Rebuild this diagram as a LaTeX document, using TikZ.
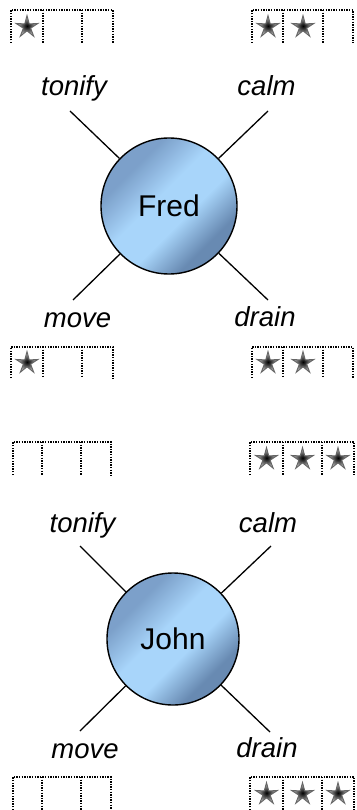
\documentclass[tikz,border=0pt]{standalone}
\usepackage{fontspec}
\setmainfont{Liberation Sans}
\usetikzlibrary{shapes.geometric}
\definecolor{ballDark}{RGB}{124,160,202}
\definecolor{ballLight}{RGB}{168,213,250}
\definecolor{ballDeep}{RGB}{104,138,178}
% diagonal blue fill: darker rims, broad light centre
\pgfdeclarehorizontalshading{ballshade}{100bp}{color(0bp)=(ballDark); color(31bp)=(ballDark);
  color(45bp)=(ballLight); color(57bp)=(ballLight); color(70bp)=(ballDeep); color(100bp)=(ballDeep)}
\tikzset{
  x=1pt, y=-1pt,
  person/.style={circle, draw=black, line width=1.4pt, minimum size=136pt, inner sep=0pt,
    shading=ballshade, shading angle=-45,
    font=\fontsize{30}{36}\selectfont},
  spoke/.style={line width=1.3pt},
  verb/.style={font=\fontsize{27.5}{33}\selectfont\itshape, inner sep=0pt, anchor=base},
  ratebox/.style={line width=1.6pt, dash pattern=on 1.4pt off 1.2pt},
  ratestar/.style={star, star points=5, star point ratio=3, minimum size=23pt, inner sep=0pt,
    draw=black!60, line width=0.9pt, inner color=black, outer color=black!20},
}
\begin{document}
\begin{tikzpicture}
\useasboundingbox (0,0) rectangle (356,810);

% ---- Fred ----
\draw[ratebox] (11,43) -- (11,10) -- (113,10) -- (113,43);
\draw[ratebox] (43,10) -- (43,43) (82,10) -- (82,43);
\node[ratestar] (fredTopL1) at (27,27) {};
\draw[ratebox] (252,43) -- (252,10) -- (353,10) -- (353,43);
\draw[ratebox] (283,10) -- (283,43) (323,10) -- (323,43);
\node[ratestar] (fredTopR1) at (268,27) {};
\node[ratestar] (fredTopR2) at (303,27) {};

\node[person] (fred) at (169,206) {Fred};
\coordinate (fredTonifyEnd) at (70,111);
\coordinate (fredCalmEnd) at (268,111);
\coordinate (fredMoveEnd) at (73,300);
\coordinate (fredDrainEnd) at (268,300);
\draw[spoke] (fred) -- (fredTonifyEnd);
\draw[spoke] (fred) -- (fredCalmEnd);
\draw[spoke] (fred) -- (fredMoveEnd);
\draw[spoke] (fred) -- (fredDrainEnd);
\node[verb] (fredTonify) at (74,96) {tonify};
\node[verb] (fredCalm) at (266.5,96) {calm};
\node[verb] (fredMove) at (77.5,327) {move};
\node[verb] (fredDrain) at (265,326) {drain};

\draw[ratebox] (11,378) -- (11,347) -- (113,347) -- (113,378);
\draw[ratebox] (43,347) -- (43,378) (82,347) -- (82,378);
\node[ratestar] (fredBotL1) at (27,363) {};
\draw[ratebox] (252,378) -- (252,347) -- (353,347) -- (353,378);
\draw[ratebox] (283,347) -- (283,378) (323,347) -- (323,378);
\node[ratestar] (fredBotR1) at (268,363) {};
\node[ratestar] (fredBotR2) at (303,363) {};

% ---- John ----
\draw[ratebox] (13,475) -- (13,442) -- (111,442) -- (111,475);
\draw[ratebox] (42,442) -- (42,475) (81,442) -- (81,475);
\draw[ratebox] (250,475) -- (250,442) -- (354,442) -- (354,475);
\draw[ratebox] (283,442) -- (283,475) (322,442) -- (322,475);
\node[ratestar] (johnTopR1) at (266.5,459) {};
\node[ratestar] (johnTopR2) at (302.5,459) {};
\node[ratestar] (johnTopR3) at (338,459) {};

\node[person, minimum size=132pt] (john) at (173,639) {John};
\coordinate (johnTonifyEnd) at (80,546);
\coordinate (johnCalmEnd) at (271,546);
\coordinate (johnMoveEnd) at (80,731);
\coordinate (johnDrainEnd) at (270,732);
\draw[spoke] (john) -- (johnTonifyEnd);
\draw[spoke] (john) -- (johnCalmEnd);
\draw[spoke] (john) -- (johnMoveEnd);
\draw[spoke] (john) -- (johnDrainEnd);
\node[verb] (johnTonify) at (82.5,532) {tonify};
\node[verb] (johnCalm) at (268,532) {calm};
\node[verb] (johnMove) at (85,758) {move};
\node[verb] (johnDrain) at (267,757) {drain};

\draw[ratebox] (13,810) -- (13,777) -- (111,777) -- (111,810);
\draw[ratebox] (42,777) -- (42,810) (81,777) -- (81,810);
\draw[ratebox] (250,810) -- (250,777) -- (354,777) -- (354,810);
\draw[ratebox] (283,777) -- (283,810) (322,777) -- (322,810);
\node[ratestar] (johnBotR1) at (266.5,794) {};
\node[ratestar] (johnBotR2) at (302.5,794) {};
\node[ratestar] (johnBotR3) at (338,794) {};
\end{tikzpicture}
\end{document}
